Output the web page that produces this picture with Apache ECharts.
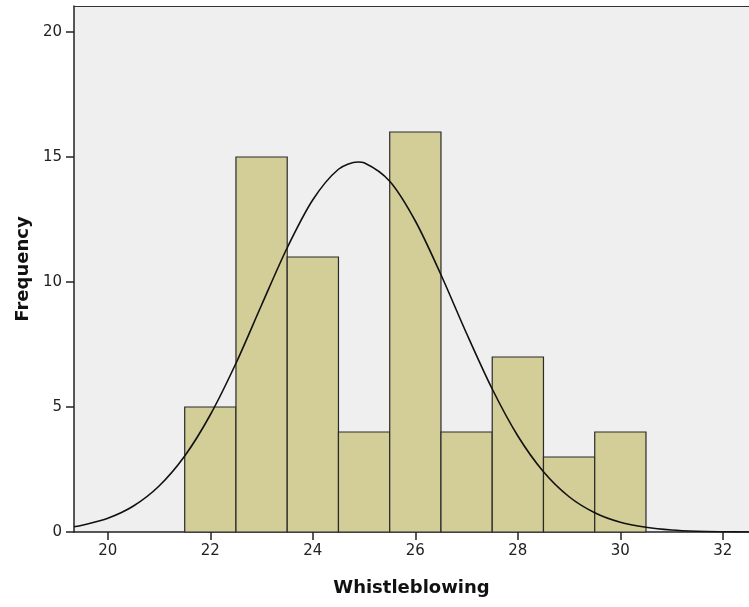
<!DOCTYPE html>
<html>
<head>
<meta charset="utf-8">
<script src="https://cdn.jsdelivr.net/npm/echarts@6/dist/echarts.min.js"></script>
<style>
  html, body { margin: 0; padding: 0; background: #fff; }
  #chart { width: 749px; height: 607px; }
</style>
</head>
<body>
<div id="chart"></div>
<script>
// histogram bins (centre of each bin, width 1)
const binCenters = [22, 23, 24, 25, 26, 27, 28, 29, 30]
const binCounts = [5, 15, 11, 4, 16, 4, 7, 3, 4]

// fitted normal curve
const curveX = [19.34, 19.5, 20, 20.5, 21, 21.5, 22, 22.5, 23, 23.5, 24, 24.5, 24.88, 25, 25.5, 26, 26.5, 27, 27.5, 28, 28.5, 29, 29.5, 30, 30.5, 31, 31.5, 32, 32.51]
const curveY = [0.21, 0.27, 0.55, 1.04, 1.84, 3.04, 4.69, 6.75, 9.08, 11.37, 13.29, 14.51, 14.8, 14.77, 14.03, 12.44, 10.29, 7.94, 5.72, 3.84, 2.41, 1.41, 0.77, 0.39, 0.19, 0.08, 0.03, 0.01, 0.0]

const xTicks = [20, 22, 24, 26, 28, 30, 32]
const yTicks = [0, 5, 10, 15, 20]

const chart = echarts.init(document.getElementById('chart'))

const labelFont = { fontFamily: 'DejaVu Sans', fontSize: 15, color: '#222' }
const nameFont = { fontFamily: 'DejaVu Sans', fontSize: 18, fontWeight: 'bold', color: '#111' }

chart.setOption({
  animation: false,
  grid: {
    left: 74,
    top: 6,
    right: 0,
    bottom: 75,
    show: true,
    backgroundColor: '#efefef',
    borderWidth: 0
  },
  xAxis: [
    {
      type: 'value',
      min: 19.34,
      max: 32.51,
      name: 'Whistleblowing',
      nameLocation: 'middle',
      nameGap: 47,
      nameTextStyle: nameFont,
      splitLine: { show: false },
      axisLine: { show: true, onZero: false, lineStyle: { color: '#222', width: 1.5 } },
      axisTick: { show: true, length: 8, customValues: xTicks, lineStyle: { color: '#222', width: 1.5 } },
      axisLabel: { customValues: xTicks, margin: 12, ...labelFont }
    },
    {
      // top frame line only
      type: 'value',
      position: 'top',
      min: 19.34,
      max: 32.51,
      splitLine: { show: false },
      axisLine: { show: true, onZero: false, lineStyle: { color: '#333', width: 1.2 } },
      axisTick: { show: false },
      axisLabel: { show: false }
    }
  ],
  yAxis: {
    type: 'value',
    min: 0,
    max: 21.04,
    name: 'Frequency',
    nameLocation: 'middle',
    nameGap: 42,
    nameRotate: 90,
    nameTextStyle: nameFont,
    splitLine: { show: false },
    axisLine: { show: true, lineStyle: { color: '#222', width: 1.5 } },
    axisTick: { show: true, length: 8, customValues: yTicks, lineStyle: { color: '#222', width: 1.5 } },
    axisLabel: { customValues: yTicks, margin: 12, ...labelFont }
  },
  series: [
    {
      type: 'custom',
      data: binCenters.map((c, i) => [c, binCounts[i]]),
      renderItem: function (params, api) {
        const c = api.value(0)
        const p0 = api.coord([c - 0.5, api.value(1)])
        const p1 = api.coord([c + 0.5, 0])
        return {
          type: 'rect',
          shape: { x: p0[0], y: p0[1], width: p1[0] - p0[0], height: p1[1] - p0[1] },
          style: { fill: '#d3ce97', stroke: '#2a2a2a', lineWidth: 1.2 }
        }
      },
      z: 2
    },
    {
      type: 'line',
      data: curveX.map((x, i) => [x, curveY[i]]),
      smooth: 0.3,
      symbol: 'none',
      lineStyle: { color: '#111', width: 1.6 },
      z: 3
    }
  ]
})
</script>
</body>
</html>
